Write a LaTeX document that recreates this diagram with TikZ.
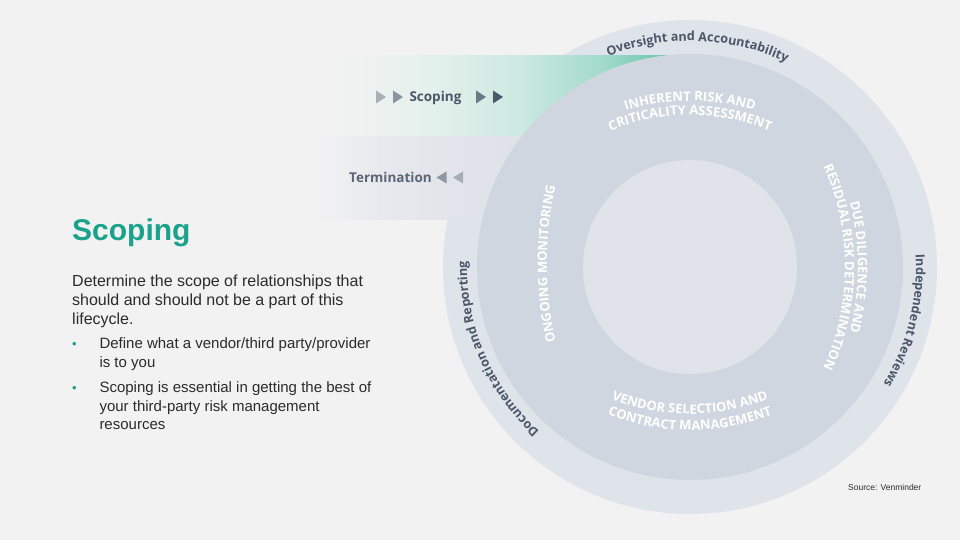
\documentclass[tikz,border=0pt]{standalone}
\usepackage{fontspec}
\setmainfont{Liberation Sans}
\newfontfamily\osans{Open Sans}
\usetikzlibrary{decorations.text}
\definecolor{bg}{HTML}{F2F2F2}
\definecolor{ringout}{HTML}{DFE3EA}
\definecolor{ringmid}{HTML}{CFD6E0}
\definecolor{ringin}{HTML}{E0E4EA}
\definecolor{lbl}{HTML}{4B5769}
\definecolor{lbltwo}{HTML}{5A6575}
\definecolor{scteal}{HTML}{1AA38A}
\definecolor{txt}{HTML}{2B2B2B}
\definecolor{shA}{HTML}{F2F2F2}
\definecolor{shB}{HTML}{E6F1ED}
\definecolor{shC}{HTML}{CDE9E1}
\definecolor{shD}{HTML}{A3DBCB}
\definecolor{shE}{HTML}{79CCB5}
\definecolor{shF}{HTML}{5DBFA4}
\definecolor{tmA}{HTML}{F2F2F2}
\definecolor{tmB}{HTML}{E7E9EE}
\definecolor{tmC}{HTML}{E0E3E9}
\definecolor{tmD}{HTML}{DCE0E8}
\definecolor{triA}{HTML}{A7AFB8}
\definecolor{triB}{HTML}{8B95A1}
\definecolor{triC}{HTML}{6B7987}
\definecolor{triD}{HTML}{4B5A6B}
\definecolor{triE}{HTML}{8E97A3}
\definecolor{triF}{HTML}{A5ADB7}
\pgfdeclarehorizontalshading{scopeshade}{100bp}{color(0bp)=(shA); color(25bp)=(shA); color(31bp)=(shA); color(42bp)=(shB); color(54bp)=(shC); color(64bp)=(shD); color(70bp)=(shE); color(75bp)=(shF); color(100bp)=(shF)}
\pgfdeclarehorizontalshading{termshade}{100bp}{color(0bp)=(tmA); color(25bp)=(tmA); color(29bp)=(tmA); color(37bp)=(tmB); color(48bp)=(tmC); color(75bp)=(tmD); color(100bp)=(tmD)}
\newcommand\ringdark{\osans\bfseries\fontsize{12.6}{12.6}\selectfont\color{lbl}}
\newcommand\ringwhite{\osans\bfseries\fontsize{13}{13}\selectfont\color{white}}
\begin{document}
\begin{tikzpicture}[x=1pt,y=1pt,
  ringtxt/.style={decorate, decoration={text along path, text align=center, text={#1}}},
  bannerlbl/.style={anchor=base west, inner sep=0pt, font=\osans\bfseries\fontsize{13.5}{13.5}\selectfont},
  rtri/.pic={\fill (-5,6.5) -- (5,0) -- (-5,-6.5) -- cycle;},
  ltri/.pic={\fill (5,6) -- (-5,0) -- (5,-6) -- cycle;},
  titletxt/.style={anchor=base west, inner sep=0pt, text=scteal, font=\bfseries\fontsize{30}{30}\selectfont},
  bodytxt/.style={anchor=base west, inner sep=0pt, text=txt, font=\fontsize{16}{19}\selectfont},
  bullettxt/.style={anchor=base west, inner sep=0pt, text=txt, font=\fontsize{15}{18}\selectfont},
  bulletdot/.style={anchor=base west, inner sep=0pt, text=scteal, font=\fontsize{13}{18}\selectfont},
  srctxt/.style={anchor=base west, inner sep=0pt, text=txt, font=\fontsize{8.5}{10}\selectfont}]
\fill[bg] (0,0) rectangle (960,540);
\useasboundingbox (0,0) rectangle (960,540);
\coordinate (C) at (690,273);
\coordinate (Ct) at (690,220);
\coordinate (Cb) at (690,340);
\coordinate (Cr) at (600,273);
\coordinate (Cl) at (897,276);
% rings and banners
\fill[ringout] (C) circle[radius=247];
\shade[shading=scopeshade] (283,403) rectangle (690,484);
\shade[shading=termshade] (283,320) rectangle (690,403);
\fill[ringmid] (C) circle[radius=213];
\fill[ringin] (C) circle[radius=107];
% outer labels
\path[ringtxt={|\ringdark|Oversight and Accountability}] ([shift={(118:226)}]C) arc[start angle=118, end angle=58, radius=226];
\path[ringtxt={|\ringdark|Independent Reviews}] ([shift={(16:226)}]C) arc[start angle=16, end angle=-44, radius=226];
\path[ringtxt={|\ringdark|Documentation and Reporting}] ([shift={(233:223)}]C) arc[start angle=233, end angle=173, radius=223];
% middle ring labels
\path[ringtxt={|\ringwhite|INHERENT RISK AND}] ([shift={(130:219)}]Ct) arc[start angle=130, end angle=50, radius=219];
\path[ringtxt={|\ringwhite|CRITICALITY ASSESSMENT}] ([shift={(130:205)}]Ct) arc[start angle=130, end angle=50, radius=205];
\path[ringtxt={|\ringwhite|VENDOR SELECTION AND}] ([shift={(235:214)}]Cb) arc[start angle=235, end angle=305, radius=214];
\path[ringtxt={|\ringwhite|CONTRACT MANAGEMENT}] ([shift={(235:230)}]Cb) arc[start angle=235, end angle=305, radius=230];
\path[ringtxt={|\ringwhite|DUE DILIGENCE AND}] ([shift={(35:258)}]Cr) arc[start angle=35, end angle=-35, radius=258];
\path[ringtxt={|\ringwhite|RESIDUAL RISK DETERMINATION}] ([shift={(35:245)}]Cr) arc[start angle=35, end angle=-35, radius=245];
\path[ringtxt={|\ringwhite|ONGOING MONITORING}] ([shift={(200:350)}]Cl) arc[start angle=200, end angle=160, radius=350];
% banner labels
\pic[fill=triA] at (381,443) {rtri};
\pic[fill=triB] at (398,443) {rtri};
\node[bannerlbl, text=lbl] (scop) at (409.3,438.3) {Scoping};
\pic[fill=triC] at (481,443) {rtri};
\pic[fill=triD] at (498,443) {rtri};
\node[bannerlbl, text=lbltwo] (term) at (349,357.7) {Termination};
\pic[fill=triE] at (441.5,362.5) {ltri};
\pic[fill=triF] at (458,362.5) {ltri};
% left text
\node[titletxt] (title) at (72,299.5) {Scoping};
\node[bodytxt] (b1) at (72,253.3) {Determine the scope of relationships that};
\node[bodytxt] (b2) at (72,234) {should and should not be a part of this};
\node[bodytxt] (b3) at (72,215) {lifecycle.};
\node[bulletdot] (d1) at (72,191.5) {•};
\node[bullettxt] (p1) at (99.3,191.5) {Define what a vendor/third party/provider};
\node[bullettxt] (p2) at (99.3,172.5) {is to you};
\node[bulletdot] (d2) at (72,147) {•};
\node[bullettxt] (p3) at (99.3,147) {Scoping is essential in getting the best of};
\node[bullettxt] (p4) at (99.3,128.5) {your third-party risk management};
\node[bullettxt] (p5) at (99.3,110) {resources};
\node[srctxt] (src) at (848,49) {Source: Venminder};
\end{tikzpicture}
\end{document}
